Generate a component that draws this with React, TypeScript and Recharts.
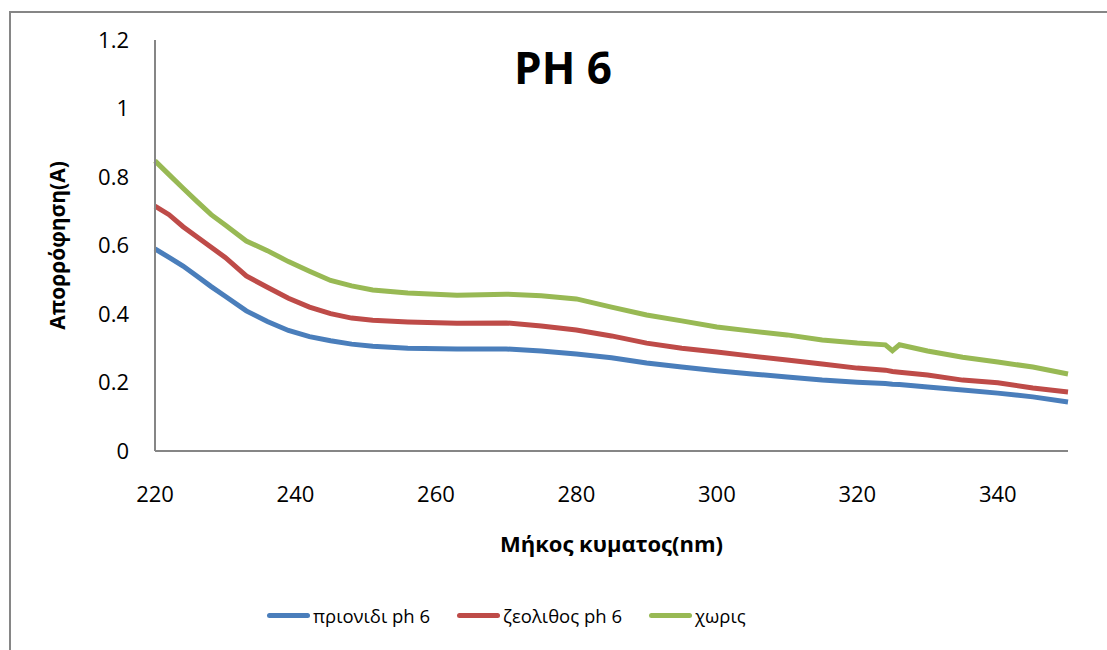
import { LineChart, Line, XAxis, YAxis, Legend, Label } from "recharts";

const wavelengths = [
  220, 222, 224, 226, 228, 230, 233, 236, 239, 242, 245, 248, 251, 256, 263,
  270, 275, 280, 285, 290, 295, 300, 305, 310, 315, 320, 324, 325, 326, 330,
  335, 340, 345, 350,
];
const sawdust = [
  0.59, 0.565, 0.54, 0.51, 0.48, 0.452, 0.409, 0.378, 0.352, 0.334, 0.322,
  0.312, 0.306, 0.3, 0.298, 0.298, 0.292, 0.283, 0.272, 0.257, 0.245, 0.234,
  0.225, 0.216, 0.207, 0.201, 0.197, 0.195, 0.194, 0.187, 0.178, 0.169, 0.158,
  0.143,
];
const zeolite = [
  0.715, 0.69, 0.655, 0.625, 0.595, 0.565, 0.511, 0.478, 0.446, 0.42, 0.401,
  0.388, 0.382, 0.377, 0.373, 0.374, 0.365, 0.353, 0.336, 0.315, 0.3, 0.289,
  0.277, 0.266, 0.254, 0.242, 0.236, 0.232, 0.23, 0.222, 0.207, 0.199, 0.184,
  0.172,
];
const without = [
  0.847, 0.807, 0.767, 0.728, 0.69, 0.66, 0.613, 0.585, 0.553, 0.525, 0.498,
  0.482, 0.47, 0.461, 0.455, 0.458, 0.453, 0.444, 0.42, 0.397, 0.38, 0.362,
  0.35, 0.339, 0.324, 0.315, 0.31, 0.293, 0.31, 0.292, 0.274, 0.26, 0.245,
  0.225,
];
const seriesNames = ["πριονιδι ph 6", "ζεολιθος ph 6", "χωρις"];
const seriesColors = ["#4a7ebb", "#be4b48", "#98b954"];
const xTicks = [220, 240, 260, 280, 300, 320, 340];
const yTicks = [0, 0.2, 0.4, 0.6, 0.8, 1, 1.2];

const data = wavelengths.map((w, i) => ({
  w,
  a: sawdust[i],
  b: zeolite[i],
  c: without[i],
}));

const font = "'Open Sans', 'Noto Sans', sans-serif";
const axisColor = "#868686";

function LegendRow() {
  return (
    <div style={{ display: "flex", alignItems: "center", paddingLeft: 267, fontSize: 18.5, color: "#000" }}>
      {seriesNames.map((name, i) => (
        <div key={name} style={{ display: "flex", alignItems: "center", marginRight: i < 2 ? 27 : 0 }}>
          <span
            style={{
              display: "inline-block",
              width: 43,
              height: 5,
              borderRadius: 3,
              background: seriesColors[i],
              marginRight: 3,
            }}
          />
          <span>{name}</span>
        </div>
      ))}
    </div>
  );
}

export default function App() {
  return (
    <div
      style={{
        position: "absolute",
        left: 0,
        top: 0,
        width: 1107,
        height: 650,
        overflow: "hidden",
        background: "#fff",
        fontFamily: font,
      }}
    >
      <div
        style={{
          position: "absolute",
          left: 9,
          top: 11,
          width: 1200,
          height: 700,
          border: `2px solid ${axisColor}`,
          boxSizing: "border-box",
        }}
      />
      <div
        style={{
          position: "absolute",
          left: 463,
          width: 200,
          top: 37,
          textAlign: "center",
          fontSize: 44,
          fontWeight: 700,
          color: "#000",
        }}
      >
        PH 6
      </div>
      <LineChart
        width={1107}
        height={650}
        data={data}
        margin={{ top: 40, right: 39, bottom: 0, left: 0 }}
        style={{ position: "absolute", left: 0, top: 0 }}
      >
        <XAxis
          dataKey="w"
          type="number"
          domain={[220, 350]}
          ticks={xTicks}
          height={199}
          tickLine={false}
          axisLine={{ stroke: axisColor, strokeWidth: 2 }}
          tick={{ fill: "#000", fontSize: 22, fontFamily: font, dy: 27 }}
          interval={0}
        >
          <Label
            value="Μήκος κυματος(nm)"
            position="insideTop"
            offset={85}
            style={{ fontSize: 22, fontWeight: 700, fill: "#000", fontFamily: font }}
          />
        </XAxis>
        <YAxis
          type="number"
          domain={[0, 1.2]}
          ticks={yTicks}
          width={155}
          tickLine={false}
          axisLine={{ stroke: axisColor, strokeWidth: 2 }}
          tick={{ fill: "#000", fontSize: 22, fontFamily: font, dx: -18 }}
          interval={0}
        >
          <Label
            value="Απορρόφηση(Α)"
            angle={-90}
            position="insideLeft"
            offset={58}
            style={{ fontSize: 21, fontWeight: 700, fill: "#000", fontFamily: font, textAnchor: "middle" }}
          />
        </YAxis>
        <Legend
          layout="horizontal"
          verticalAlign="middle"
          align="center"
          content={() => <LegendRow />}
          wrapperStyle={{ top: 603, left: 0, width: 1107, fontFamily: font }}
        />
        <Line
          type="linear"
          dataKey="a"
          name={seriesNames[0]}
          stroke={seriesColors[0]}
          strokeWidth={5}
          dot={false}
          isAnimationActive={false}
        />
        <Line
          type="linear"
          dataKey="b"
          name={seriesNames[1]}
          stroke={seriesColors[1]}
          strokeWidth={5}
          dot={false}
          isAnimationActive={false}
        />
        <Line
          type="linear"
          dataKey="c"
          name={seriesNames[2]}
          stroke={seriesColors[2]}
          strokeWidth={5}
          dot={false}
          isAnimationActive={false}
        />
      </LineChart>
    </div>
  );
}
